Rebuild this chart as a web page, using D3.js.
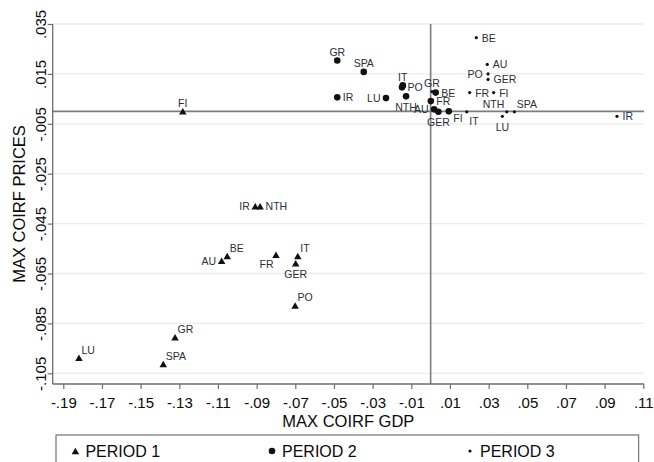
<!DOCTYPE html>
<html>
<head>
<meta charset="utf-8">
<script src="https://cdn.jsdelivr.net/npm/d3@7/dist/d3.min.js"></script>
<style>
  html, body { margin: 0; padding: 0; background: #fff; }
  svg { display: block; font-family: "Liberation Sans", Arial, Helvetica, sans-serif; }
</style>
</head>
<body>
<svg id="chart" width="654" height="462"></svg>
<script>
// ---------- DATA ----------
const seriesNames = ["PERIOD 1", "PERIOD 2", "PERIOD 3"];

const countries1 = ["FI", "IR", "NTH", "BE", "AU", "FR", "IT", "GER", "PO", "GR", "SPA", "LU"];
const gdp1    = [-0.1282, -0.0907, -0.0882, -0.1052, -0.1081, -0.0800, -0.0687, -0.0698, -0.0701, -0.1322, -0.1383, -0.1819];
const prices1 = [ 0.0000, -0.0380, -0.0380, -0.0580, -0.0599, -0.0575, -0.0580, -0.0609, -0.0778, -0.0906, -0.1013, -0.0988];
const clock1  = [12, 9, 3, 1, 9, 7, 1, 6, 1, 1, 1, 1];

const countries2 = ["GR", "SPA", "IR", "LU", "IT", "PO", "NTH", "BE", "FR", "AU", "GER", "FI"];
const gdp2    = [-0.0483, -0.0346, -0.0483, -0.0231, -0.0144, -0.0148, -0.0127, 0.0026, 0.0001, 0.0018, 0.0040, 0.0094];
const prices2 = [ 0.0204,  0.0158,  0.0056,  0.0053,  0.0104,  0.0096,  0.0060, 0.0075, 0.0041, 0.0008, -0.0002, 0.0000];
const clock2  = [12, 12, 3, 9, 12, 3, 6, 3, 3, 9, 6, 4];

const countries3 = ["BE", "AU", "PO", "GER", "FR", "FI", "NTH", "SPA", "IT", "LU", "IR", "GR"];
const gdp3    = [0.0236, 0.0293, 0.0297, 0.0297, 0.0202, 0.0326, 0.0394, 0.0433, 0.0187, 0.0371, 0.0964, 0.0007];
const prices3 = [0.0295, 0.0188, 0.0150, 0.0128, 0.0075, 0.0075, -0.0002, -0.0002, -0.0002, -0.0020, -0.0020, 0.0079];
const clock3  = [3, 3, 9, 3, 3, 3, 11, 1, 5, 6, 3, 12];

const xTicks = [-0.19, -0.17, -0.15, -0.13, -0.11, -0.09, -0.07, -0.05, -0.03, -0.01, 0.01, 0.03, 0.05, 0.07, 0.09, 0.11];
const xTickLabels = ["-.19", "-.17", "-.15", "-.13", "-.11", "-.09", "-.07", "-.05", "-.03", "-.01", ".01", ".03", ".05", ".07", ".09", ".11"];
const yTicks = [0.035, 0.015, -0.005, -0.025, -0.045, -0.065, -0.085, -0.105];
const yTickLabels = [".035", ".015", "-.005", "-.025", "-.045", "-.065", "-.085", "-.105"];

const xTitle = "MAX COIRF GDP";
const yTitle = "MAX COIRF PRICES";

// ---------- LAYOUT ----------
const region = { left: 52.7, right: 644, top: 24, bottom: 384 };
const svg = d3.select("#chart");

const x = d3.scaleLinear().domain([-0.19, 0.11]).range([63.3, 643.3]);
const y = d3.scaleLinear().domain([-0.105, 0.035]).range([373.3, 24]);

const axisColor = "#6e6e6e";
const labelColor = "#2a2f38";
const textColor = "#0a0a0a";

// gridlines
svg.append("g").selectAll("line").data(yTicks).join("line")
  .attr("x1", region.left).attr("x2", region.right)
  .attr("y1", d => y(d)).attr("y2", d => y(d))
  .attr("stroke", "#ececec").attr("stroke-width", 1.3);

// reference lines at 0
svg.append("line")
  .attr("x1", region.left).attr("x2", region.right)
  .attr("y1", y(0)).attr("y2", y(0))
  .attr("stroke", "#7d7d7d").attr("stroke-width", 1.6);
svg.append("line")
  .attr("x1", x(0)).attr("x2", x(0))
  .attr("y1", region.top).attr("y2", region.bottom)
  .attr("stroke", "#7d7d7d").attr("stroke-width", 1.6);

// X axis
const xAxis = d3.axisBottom(x).tickValues(xTicks).tickFormat((d, i) => xTickLabels[i]).tickSize(5).tickPadding(6);
const gx = svg.append("g").attr("transform", `translate(0,${region.bottom})`).call(xAxis);
gx.select(".domain").remove();
gx.selectAll(".tick line").attr("stroke", axisColor).attr("stroke-width", 1.2);
gx.selectAll(".tick text").attr("fill", textColor).style("font-size", "15px")
  .attr("y", 0).attr("dy", 0).attr("transform", "translate(0,24)");
svg.append("line").attr("x1", region.left).attr("x2", region.right)
  .attr("y1", region.bottom).attr("y2", region.bottom)
  .attr("stroke", axisColor).attr("stroke-width", 1.3);

// Y axis
const yAxis = d3.axisLeft(y).tickValues(yTicks).tickFormat((d, i) => yTickLabels[i]).tickSize(5);
const gy = svg.append("g").attr("transform", `translate(${region.left},0)`).call(yAxis);
gy.select(".domain").remove();
gy.selectAll(".tick line").attr("stroke", axisColor).attr("stroke-width", 1.2);
gy.selectAll(".tick text").attr("fill", textColor).style("font-size", "15px")
  .attr("text-anchor", "middle").attr("x", 0).attr("y", -7).attr("dy", 0)
  .attr("transform", "rotate(-90)");
svg.append("line").attr("x1", region.left).attr("x2", region.left)
  .attr("y1", region.top).attr("y2", region.bottom)
  .attr("stroke", axisColor).attr("stroke-width", 1.3);

// axis titles
svg.append("text").attr("x", (region.left + region.right) / 2).attr("y", 427)
  .attr("text-anchor", "middle").attr("fill", textColor).style("font-size", "16.5px").text(xTitle);
svg.append("text").attr("transform", `translate(25,${(region.top + region.bottom) / 2}) rotate(-90)`)
  .attr("text-anchor", "middle").attr("fill", textColor).style("font-size", "16.5px").text(yTitle);

// marker shapes
function triPath(w, h) {
  return `M0,${-h / 2}L${w / 2},${h / 2}L${-w / 2},${h / 2}Z`;
}
const markerDraw = [
  (g) => g.append("path").attr("d", triPath(7.5, 6.5)).attr("fill", "#111"),
  (g) => g.append("circle").attr("r", 3.3).attr("fill", "#111"),
  (g) => g.append("circle").attr("r", 1.6).attr("fill", "#111")
];

// label offsets by clock position
const clockOff = {
  12: [0, -8.5, "middle"], 1: [2.5, -8, "start"], 2: [4, -4, "start"], 3: [5.5, 0, "start"],
  4: [4.5, 7, "start"], 5: [2.5, 9, "start"], 6: [0, 10.5, "middle"], 7: [-2.5, 9, "end"],
  8: [-4, 5, "end"], 9: [-5.5, 0, "end"], 10: [-4, -5, "end"], 11: [-2.5, -8, "end"]
};

const allSeries = [
  { c: countries1, gx: gdp1, py: prices1, k: clock1 },
  { c: countries2, gx: gdp2, py: prices2, k: clock2 },
  { c: countries3, gx: gdp3, py: prices3, k: clock3 }
];

allSeries.forEach((s, si) => {
  const rows = s.c.map((name, i) => ({ name, gx: s.gx[i], py: s.py[i], k: s.k[i] }));
  const g = svg.append("g");
  rows.forEach(r => {
    const mg = g.append("g").attr("transform", `translate(${x(r.gx)},${y(r.py)})`);
    markerDraw[si](mg);
    const o = clockOff[r.k];
    mg.append("text").attr("x", o[0]).attr("y", o[1])
      .attr("dominant-baseline", "central").attr("text-anchor", o[2])
      .attr("fill", labelColor).style("font-size", "10.5px").text(r.name);
  });
});

// legend
svg.append("rect").attr("x", 56).attr("y", 435).attr("width", 582.6).attr("height", 40)
  .attr("fill", "none").attr("stroke", "#7d7d7d").attr("stroke-width", 1.3);
const legX = [75.4, 272, 470];
seriesNames.forEach((nm, i) => {
  const lg = svg.append("g").attr("transform", `translate(${legX[i]},451)`);
  markerDraw[i](lg);
  lg.append("text").attr("x", 10).attr("y", 0).attr("dominant-baseline", "central")
    .attr("fill", textColor).style("font-size", "16px").text(nm);
});
</script>
</body>
</html>
